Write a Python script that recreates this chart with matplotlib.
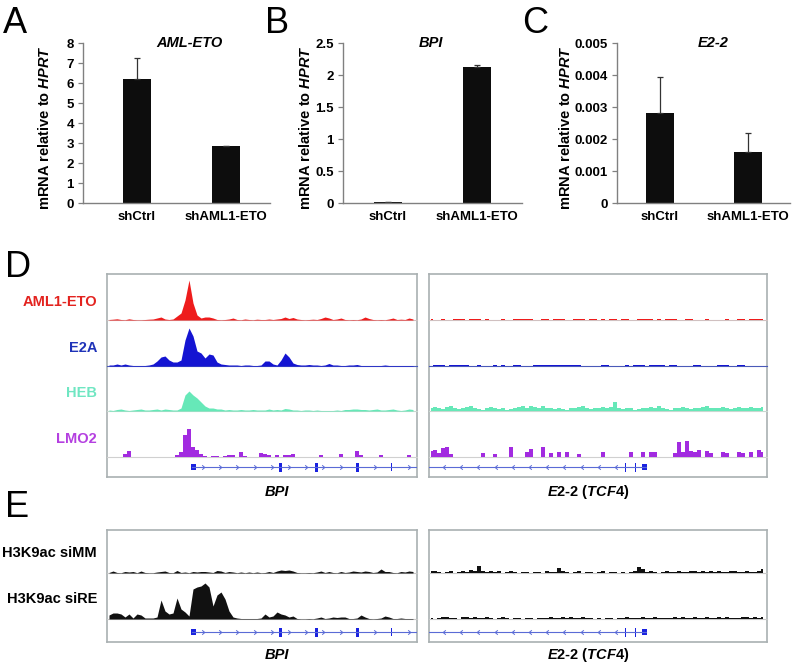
import numpy as np
import matplotlib
matplotlib.use("Agg")
import matplotlib.pyplot as plt
from matplotlib.path import Path

plt.rcParams['font.family'] = ['Liberation Sans', 'DejaVu Sans']
plt.rcParams['mathtext.fontset'] = 'custom'
plt.rcParams['mathtext.it'] = 'Liberation Sans:italic:bold'
plt.rcParams['mathtext.rm'] = 'Liberation Sans:bold'
plt.rcParams['mathtext.bf'] = 'Liberation Sans:bold'

# ---------------- bar chart data ----------------
categories = ["shCtrl", "shAML1-ETO"]
aml_eto_mean = [6.2, 2.85]
aml_eto_err = [1.05, 0.02]
bpi_mean = [0.012, 2.12]
bpi_err = [0.0, 0.03]
e22_mean = [0.0028, 0.0016]
e22_err = [0.00113, 0.0006]
aml_eto_ticks = [0, 1, 2, 3, 4, 5, 6, 7, 8]
aml_eto_ticklabels = ["0", "1", "2", "3", "4", "5", "6", "7", "8"]
bpi_ticks = [0, 0.5, 1.0, 1.5, 2.0, 2.5]
bpi_ticklabels = ["0", "0.5", "1", "1.5", "2", "2.5"]
e22_ticks = [0, 0.001, 0.002, 0.003, 0.004, 0.005]
e22_ticklabels = ["0", "0.001", "0.002", "0.003", "0.004", "0.005"]

# ---------------- ChIP-seq tracks (signal per 4-unit bin) ----------------
BIN = 4
# BPI locus (left window)
aml1eto_bpi = [0.5, 0.8, 1.2, 0.5, 0.3, 1.2, 0.5, 0.3, 0.3, 0.5,
               0.8, 1.0, 2.0, 3.0, 1.0, 0.5, 1.0, 4.0, 7.0, 20.0,
               40.0, 17.0, 5.0, 2.0, 3.0, 3.0, 2.0, 0.5, 0.3, 0.5,
               1.0, 2.0, 0.5, 0.3, 1.0, 0.5, 0.3, 0.8, 0.5, 0.5,
               1.0, 0.5, 1.0, 1.5, 3.0, 1.5, 2.5, 1.0, 0.5, 0.3,
               0.5, 0.8, 0.5, 1.5, 3.0, 2.0, 0.5, 1.0, 2.0, 0.5,
               0.3, 0.5, 0.3, 1.0, 3.0, 1.5, 0.5, 0.3, 0.5, 0.3,
               1.0, 2.0, 0.5, 0.8, 0.5, 2.0, 1.0]
e2a_bpi = [1, 1, 2, 1, 2, 1, 0.5, 0.5, 0.5, 0.5,
           1, 2, 5, 9, 10, 6, 4, 4, 6, 26,
           38, 30, 15, 13, 8, 12, 11, 4, 2, 1.5,
           1, 1, 1, 0.5, 1, 1, 0.5, 0.5, 1, 5,
           5, 2, 1, 6, 13, 9, 3, 1.5, 1, 1,
           1.5, 1, 1, 0.5, 1, 2.5, 1, 1, 0.5, 0.5,
           1, 1, 1.5, 0.5, 0.5, 0.5, 0.5, 0.5, 0.5, 1,
           0.5, 0.5, 0.5, 0.5, 0.5, 0.5, 0.5]
heb_bpi = [1, 0.5, 1.5, 2, 1, 0.5, 1, 1.5, 2, 1,
           1, 1.5, 2, 1, 2, 1.5, 1, 1, 3, 16,
           20, 16, 13, 9, 5, 3, 3, 2, 2, 1,
           1.5, 1, 1, 1.5, 1, 1, 1.5, 1, 1, 1,
           2, 1, 1.5, 1, 2.5, 2, 1, 1, 0.5, 1,
           1, 0.5, 1, 0.5, 0.5, 0.5, 0.5, 1, 0.5, 1.5,
           1.5, 2, 2, 1.5, 1.5, 1, 1.5, 2, 1, 1,
           1.5, 2, 1, 0.5, 1, 2, 1.5]
lmo2_bpi = [0, 0, 0, 0, 3, 6, 0, 0, 0, 0,
            0, 0, 0, 0, 0, 0, 0, 2, 5, 22,
            28, 10, 7, 3, 1, 0, 1, 1.5, 0, 1.5,
            2, 2, 0, 5, 1, 0, 0, 0, 4, 3,
            2, 0, 2, 0, 2.5, 2, 3, 0, 0, 0,
            0, 0, 0, 2, 0, 0, 0, 0, 3, 0,
            0, 0, 6, 2, 0, 0, 0, 0, 2, 0,
            0, 0, 0, 0, 0, 2, 0]
# E2-2 (TCF4) locus (right window)
aml1eto_e22 = [1, 0.5, 0.3, 1, 0.5, 0.3, 0.8, 1.2, 1, 0.5,
               1.5, 1.2, 1, 0.5, 0.8, 0.5, 0.5, 0.3, 1, 0.5,
               0.3, 1, 1.2, 1.5, 1, 0.8, 0.3, 0.5, 1, 0.8,
               0.5, 1, 1.2, 1, 0.5, 0.3, 1, 0.8, 1, 0.5,
               0.8, 1, 0.5, 1, 0.3, 0.8, 1, 0.5, 1, 1.2,
               0.5, 0.3, 1, 0.8, 1.2, 1, 0.5, 1, 0.3, 0.8,
               1, 1.2, 0.5, 0.3, 0.8, 1, 0.5, 0.3, 0.5, 1,
               0.5, 0.3, 0.5, 0.3, 0.8, 0.5, 0.3, 0.8, 1, 0.5,
               1, 0.8, 1.2, 1]
e2a_e22 = [0.5, 1, 1.2, 0.8, 0.3, 1, 1.2, 1.5, 1, 0.8,
           0.5, 0.3, 0.8, 0.5, 0.3, 0.3, 0.8, 0.5, 1, 0.5,
           0.3, 0.8, 1, 0.5, 0.3, 0.5, 1, 0.8, 1.2, 1,
           1, 0.8, 1.2, 1.5, 1, 0.8, 1, 1.2, 0.5, 0.3,
           0.3, 0.5, 0.3, 0.8, 1, 0.5, 0.3, 0.3, 0.5, 0.8,
           0.3, 1, 1.2, 1, 0.5, 1, 0.8, 1.2, 1, 0.5,
           1, 0.8, 0.3, 0.5, 0.3, 0.5, 1, 0.8, 0.3, 0.5,
           0.3, 0.5, 1, 0.8, 1.2, 0.5, 0.3, 0.8, 1, 0.5,
           0.3, 0.5, 0.3, 0.5]
heb_e22 = [3, 4.5, 3.5, 2, 4, 5.5, 3, 2, 3, 4,
           5, 3, 2, 1.5, 3.5, 4, 3, 2, 3, 1.5,
           2, 3.5, 4, 5, 3.5, 5.5, 4, 3.5, 5, 3,
           3.5, 2, 3, 2, 1.5, 3.5, 3, 4, 5, 3,
           2, 3.5, 3, 4, 3.5, 4, 9, 3.5, 2, 3,
           3.5, 1.5, 2, 3, 3.5, 4.5, 3.5, 5, 3, 2,
           1.5, 3, 3.5, 4.5, 3, 2, 3, 3.5, 4, 5,
           3.5, 3, 3.5, 4.5, 3, 2, 3, 4, 3.5, 3,
           4.5, 3.5, 3, 4]
lmo2_e22 = [6, 7, 4, 9, 10, 3, 0, 0, 0, 0,
            0, 0, 0, 4, 0, 0, 3, 0, 0, 0,
            10, 0, 0, 0, 5, 8, 0, 0, 10, 0,
            4, 0, 5, 0, 5, 0, 0, 3, 0, 0,
            0, 0, 0, 5, 0, 0, 0, 0, 0, 0,
            5, 0, 0, 5, 0, 5, 5, 0, 0, 0,
            0, 4, 15, 5, 16, 6, 5, 7, 0, 6,
            4, 0, 0, 5, 4, 0, 0, 5, 4, 0,
            5, 0, 7, 5]
# H3K9ac
simm_bpi = [0.5, 2, 0.5, 0.3, 1.5, 1, 1.5, 0.3, 2, 0.5,
            0.3, 0.3, 1, 1.5, 2, 0.5, 0.3, 2.5, 0.5, 1,
            0.3, 1.5, 1, 1.5, 1.5, 1, 0.5, 2.5, 2, 0.5,
            1.5, 1, 0.3, 1, 0.3, 1, 0.3, 1, 0.3, 0.5,
            1.5, 0.5, 2, 3, 2.5, 3, 2, 0.5, 0.3, 0.3,
            0.5, 0.3, 1, 2, 0.5, 1.5, 0.5, 0.3, 1.5, 0.5,
            1, 2, 1.5, 1, 2, 1.5, 0.5, 1, 4, 1.5,
            1.5, 0.5, 0.3, 1.5, 1, 2, 1.5]
sire_bpi = [4, 6, 6, 5, 2, 5, 1, 5, 4, 1,
            1, 1, 2, 19, 8, 5, 6, 21, 10, 7,
            3, 30, 32, 33, 36, 32, 13, 24, 27, 20,
            8, 2, 1, 0.5, 0.5, 0.5, 0.5, 0.5, 1, 5,
            2, 3, 7, 5, 4, 2, 3, 0.5, 0.3, 0.3,
            0.5, 0.3, 1, 2, 0.5, 1, 2, 1.5, 2, 2,
            0.5, 0.5, 1, 4, 2, 0.5, 0.3, 0.5, 1, 3,
            2, 0.5, 0.5, 1, 0.5, 0.5, 0.5]
simm_e22 = [1.5, 2, 0.5, 0.3, 0.5, 2, 0.3, 0.5, 2, 1,
            3, 1.5, 7, 2, 0.5, 2, 0.5, 1.5, 0.3, 0.5,
            1.5, 0.5, 0.3, 1, 0.5, 0.3, 1, 0.5, 0.3, 2,
            0.5, 1, 5, 2, 0.5, 0.3, 1, 1.5, 0.3, 0.5,
            1, 0.3, 0.5, 1.5, 0.3, 0.5, 1, 0.3, 0.5, 0.3,
            0.5, 1.5, 6, 4, 1, 2, 0.5, 0.3, 0.5, 1.5,
            1, 0.5, 1.5, 1, 0.5, 1.5, 2, 1, 1.5, 0.5,
            1.5, 1, 2, 1, 0.5, 1.5, 2, 1, 0.5, 1.5,
            1, 0.5, 1.5, 4]
sire_e22 = [0.5, 0.3, 1, 1.5, 2, 0.5, 1, 0.3, 1.5, 1.5,
            1, 1.5, 0.5, 1, 1.5, 0.5, 0.3, 1, 1.5, 0.5,
            0.3, 1, 0.5, 0.3, 0.5, 1, 0.3, 0.5, 1, 0.5,
            1.5, 1, 0.5, 1.5, 1, 1.5, 0.5, 1, 1.5, 1,
            0.5, 0.3, 0.5, 0.3, 1, 0.5, 0.3, 1, 0.5, 1.5,
            1, 0.5, 1, 1.5, 1, 0.5, 1.5, 0.5, 1, 0.5,
            1, 2, 1, 1.5, 0.5, 1, 1.5, 0.5, 1, 1.5,
            1, 0.5, 1.5, 1, 1.5, 0.5, 1, 0.5, 1.5, 2,
            1, 1.5, 0.5, 2]

# gene models (window coordinates): exon start, end, half-height
bpi_gene_span = [85, 310]
bpi_exons = [(83.5, 88.5, 0.5), (171.5, 174.5, 0.75), (207.5, 210.5, 0.75),
             (248.5, 251.5, 0.75), (283.8, 284.8, 0.7)]
e22_gene_span = [0, 217]
e22_exons = [(195.5, 197.0, 0.75), (205.5, 207.0, 0.75), (213.0, 218.0, 0.45)]

# ---------------- figure ----------------
W, H = 796, 666
fig = plt.figure(figsize=(W / 100, H / 100), dpi=100)


def ax_px(x0, y0, x1, y1, **kw):
    return fig.add_axes([x0 / W, 1 - y1 / H, (x1 - x0) / W, (y1 - y0) / H], **kw)


def bar_panel(box, means, errs, ticks, ticklabels, xlim, title, title_x, ylab_x):
    ax = ax_px(*box)
    x = np.arange(len(categories))
    ax.bar(x, means, width=0.315, color='#0d0d0d',
           yerr=[np.zeros(len(errs)), errs],
           error_kw=dict(ecolor='#333333', elinewidth=0.9, capsize=2.2, capthick=0.9))
    ax.set_xlim(*xlim)
    ax.set_ylim(ticks[0], ticks[-1])
    ax.set_yticks(ticks)
    ax.set_yticklabels(ticklabels, fontsize=9.5, fontweight='bold')
    ax.set_xticks(x)
    ax.set_xticklabels(categories, fontsize=9.5, fontweight='bold')
    for s in ['top', 'right']:
        ax.spines[s].set_visible(False)
    for s in ['left', 'bottom']:
        ax.spines[s].set_color('#808080')
        ax.spines[s].set_linewidth(1.0)
        ax.spines[s].set_clip_on(False)
    ax.tick_params(axis='y', length=3.5, width=0.9, color='#808080', pad=3)
    ax.tick_params(axis='x', length=0, pad=6)
    ax.set_ylabel(r'mRNA relative to $\mathit{HPRT}$', fontsize=10.5, fontweight='bold')
    ax.yaxis.set_label_coords(ylab_x, 0.47)
    ax.text(title_x, 1.0, title, transform=ax.transAxes, ha='center', va='center',
            fontsize=10.5, fontweight='bold', fontstyle='italic')
    return ax


bar_panel((83, 43, 270, 203), aml_eto_mean, aml_eto_err, aml_eto_ticks, aml_eto_ticklabels,
          (-0.607, 1.494), 'AML-ETO', 0.57, -0.165)
bar_panel((343, 43, 522, 203), bpi_mean, bpi_err, bpi_ticks, bpi_ticklabels,
          (-0.506, 1.506), 'BPI', 0.49, -0.17)
bar_panel((617, 43, 790, 203), e22_mean, e22_err, e22_ticks, e22_ticklabels,
          (-0.489, 1.477), 'E2-2', 0.555, -0.255)

# panel letters
for letter, (lx, ly) in {'A': (3, 33), 'B': (265, 33), 'C': (522, 33),
                         'D': (5, 277), 'E': (5, 517)}.items():
    fig.text(lx / W, 1 - ly / H, letter, fontsize=26, ha='left', va='baseline')

LEFT = (107, 417)
RIGHT = (429, 767)


def frame(x0, y0, x1, y1):
    ax = ax_px(x0, y0, x1, y1)
    ax.set_xticks([])
    ax.set_yticks([])
    ax.patch.set_alpha(0)
    for s in ax.spines.values():
        s.set_color('#a9b0b2')
        s.set_linewidth(1.2)
    return ax


def track(xr, base_y, height, values, color, ymax, base_color, step=False):
    ax = ax_px(xr[0], base_y - height, xr[1], base_y)
    ax.patch.set_alpha(0)
    xs = BIN / 2 + BIN * np.arange(len(values))
    v = np.asarray(values, dtype=float)
    if step:
        ax.fill_between(xs, 0, v, step='mid', color=color, lw=0)
    else:
        ax.fill_between(xs, 0, v, color=color, lw=0)
    ax.axhline(0, color=base_color, lw=0.8, clip_on=False, zorder=0)
    ax.set_xlim(0, xr[1] - xr[0])
    ax.set_ylim(0, ymax)
    ax.axis('off')


chev_right = Path([(-0.6, 1), (0.6, 0), (-0.6, -1)], [Path.MOVETO, Path.LINETO, Path.LINETO])
chev_left = Path([(0.6, 1), (-0.6, 0), (0.6, -1)], [Path.MOVETO, Path.LINETO, Path.LINETO])


def gene(xr, gy, span, exons, strand):
    ax = ax_px(xr[0], gy - 6, xr[1], gy + 6)
    ax.patch.set_alpha(0)
    ax.set_xlim(0, xr[1] - xr[0])
    ax.set_ylim(-1, 1)
    ax.plot(span, [0, 0], color='#5a6bd6', lw=0.8)
    for (s, e, hh) in exons:
        ax.bar((s + e) / 2, 2 * hh, width=e - s, bottom=-hh, color='#1a22e0', lw=0)
    # intron chevrons every ~17 units, skipping exons
    cand = np.arange(span[0] + 11, span[1] - 2, 17.2) if strand > 0 else \
        np.arange(span[1] - 30, span[0] + 4, -17.2)
    keep = [c for c in cand if all(abs(c - (s + e) / 2) > 4 for (s, e, _) in exons)]
    ax.plot(keep, np.zeros(len(keep)), ls='none', marker=chev_right if strand > 0 else chev_left,
            ms=3.2, mec='#5a6bd6', mfc='none', mew=0.7)
    ax.axis('off')


RED, BLUE, MINT, PURPLE, BLACK = '#ee1c1c', '#1414d2', '#66e8b8', '#a22be0', '#111111'

# panel D
frame(LEFT[0], 274, LEFT[1], 477)
frame(RIGHT[0], 274, RIGHT[1], 477)
d_tracks = [('AML1-ETO', 320, aml1eto_bpi, aml1eto_e22, RED, '#e3231f', '#d0c0c0', False),
            ('E2A', 366, e2a_bpi, e2a_e22, BLUE, '#1f33b8', '#4a5ab8', False),
            ('HEB', 411, heb_bpi, heb_e22, MINT, '#6fe6c2', '#c8d8d0', False),
            ('LMO2', 457, lmo2_bpi, lmo2_e22, PURPLE, '#b43fe0', '#d0d0d0', True)]
for name, by, lv, rv, col, lcol, bcol, st in d_tracks:
    track(LEFT, by, 42, lv, col, 42, bcol, st)
    track(RIGHT, by, 42, rv, col, 42, bcol, True)
    fig.text(97 / W, 1 - (by - 18) / H, name, color=lcol, fontsize=10.5, fontweight='bold',
             ha='right', va='center')
gene(LEFT, 467, bpi_gene_span, bpi_exons, +1)
gene(RIGHT, 467, e22_gene_span, e22_exons, -1)
fig.text(277 / W, 1 - 492 / H, 'BPI', fontsize=10.5, fontweight='bold', fontstyle='italic',
         ha='center', va='center')
fig.text(588 / W, 1 - 492 / H, r'$\mathit{E2}$-$\mathit{2}$ ($\mathit{TCF4}$)', fontsize=10.5,
         fontweight='bold', ha='center', va='center')

# panel E
frame(LEFT[0], 530, LEFT[1], 642)
frame(RIGHT[0], 530, RIGHT[1], 642)
e_tracks = [('H3K9ac siMM', 573, simm_bpi, simm_e22),
            ('H3K9ac siRE', 619, sire_bpi, sire_e22)]
for name, by, lv, rv in e_tracks:
    track(LEFT, by, 38, lv, BLACK, 38, '#c8c8c8', False)
    track(RIGHT, by, 38, rv, BLACK, 38, '#c8c8c8', True)
    fig.text(97 / W, 1 - (by - 20) / H, name, color='black', fontsize=10.5, fontweight='bold',
             ha='right', va='center')
gene(LEFT, 632, bpi_gene_span, bpi_exons, +1)
gene(RIGHT, 632, e22_gene_span, e22_exons, -1)
fig.text(277 / W, 1 - 655 / H, 'BPI', fontsize=10.5, fontweight='bold', fontstyle='italic',
         ha='center', va='center')
fig.text(588 / W, 1 - 655 / H, r'$\mathit{E2}$-$\mathit{2}$ ($\mathit{TCF4}$)', fontsize=10.5,
         fontweight='bold', ha='center', va='center')

fig.savefig('out.png', dpi=100)
